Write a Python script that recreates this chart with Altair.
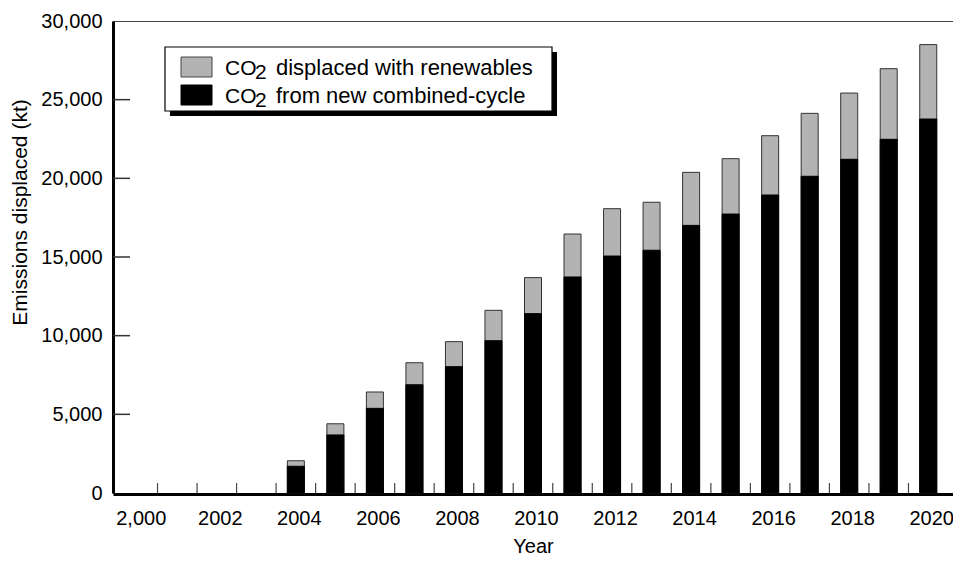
import altair as alt
import pandas as pd

# ---- data ----
years = list(range(2004, 2021))
total_kt = [2050, 4400, 6420, 8280, 9620, 11610, 13690, 16460, 18070,
            18480, 20380, 21250, 22710, 24130, 25420, 26970, 28500]
combined_cycle_kt = [1700, 3690, 5380, 6880, 8030, 9680, 11400, 13730, 15060,
                     15430, 17010, 17730, 18940, 20130, 21210, 22480, 23770]
year_labels = list(range(2000, 2021, 2))
y_tick_values = [0, 5000, 10000, 15000, 20000, 25000, 30000]
inner_y_ticks = [5000, 10000, 15000, 20000, 25000]
band_edges = [y + 0.5 for y in range(2000, 2020)]
legend_texts = ["displaced with renewables", "from new combined-cycle"]
legend_fills = ["#b3b3b3", "#000000"]
legend_strokes = ["#444444", "#000000"]

W, H = 840, 472
FONT = "Liberation Sans"
Y_TITLE = "Emissions displaced (kt)"

df = pd.DataFrame({"year": years, "total": total_kt, "cc": combined_cycle_kt})

x_scale = alt.Scale(domain=[1999.5, 2020.5], nice=False, zero=False)
y_scale = alt.Scale(domain=[0, 30000], nice=False)

x_axis = alt.Axis(
    values=year_labels, format="d",
    labelExpr="datum.value == 2000 ? '2,000' : datum.label",
    labelOffset=3, offset=1, title="Year", titleY=42, titleBaseline="top",
)
y_axis = alt.Axis(
    values=y_tick_values,
    labelExpr="format(datum.value, ',')",
    title=Y_TITLE, titleAngle=270,
    titleX=-93, titleY=191, titleAlign="center", titleBaseline="middle",
)

x_ticks = alt.Chart(pd.DataFrame({"edge": band_edges})).mark_rule(
    color="#444444", strokeWidth=1.2
).encode(
    x=alt.X("edge:Q", scale=x_scale, axis=x_axis),
    y=alt.value(H), y2=alt.value(H - 10),
)
y_ticks = alt.Chart(pd.DataFrame({"v": inner_y_ticks})).mark_rule(
    color="#333333", strokeWidth=1.5
).encode(
    y=alt.Y("v:Q", scale=y_scale, axis=y_axis),
    x=alt.value(0), x2=alt.value(17),
)

gray_bars = alt.Chart(df).mark_bar(
    size=17, orient="vertical", color="#b3b3b3", stroke="#333333", strokeWidth=1
).encode(
    x=alt.X("year:Q", scale=x_scale, axis=x_axis),
    y=alt.Y("total:Q", scale=y_scale, axis=y_axis),
)
black_bars = alt.Chart(df).mark_bar(
    size=17, orient="vertical", color="black", stroke="black", strokeWidth=1
).encode(
    x=alt.X("year:Q", scale=x_scale, axis=x_axis),
    y=alt.Y("cc:Q", scale=y_scale, axis=y_axis),
)

one = pd.DataFrame({"k": [0]})
# legend box with shadow
legend_layers = [
    alt.Chart(one).mark_rect(color="black").encode(
        x=alt.value(57), x2=alt.value(444), y=alt.value(31), y2=alt.value(95)),
    alt.Chart(one).mark_rect(fill="white", stroke="black", strokeWidth=1.2).encode(
        x=alt.value(52), x2=alt.value(439), y=alt.value(26), y2=alt.value(90)),
]
row_top = [36, 64]
for i, (txt, fill, stroke) in enumerate(zip(legend_texts, legend_fills, legend_strokes)):
    top = row_top[i]
    base = top + 18
    legend_layers.append(
        alt.Chart(one).mark_rect(fill=fill, stroke=stroke, strokeWidth=1).encode(
            x=alt.value(68), x2=alt.value(99), y=alt.value(top), y2=alt.value(top + 20)))
    legend_layers.append(
        alt.Chart(one).mark_text(text="CO", font=FONT, fontSize=21, align="left",
                                 baseline="alphabetic", color="black").encode(
            x=alt.value(112), y=alt.value(base)))
    legend_layers.append(
        alt.Chart(one).mark_text(text="2", font=FONT, fontSize=21, align="left",
                                 baseline="alphabetic", color="black").encode(
            x=alt.value(142), y=alt.value(base + 4)))
    legend_layers.append(
        alt.Chart(one).mark_text(text=txt, font=FONT, fontSize=22, align="left",
                                 baseline="alphabetic", color="black").encode(
            x=alt.value(163), y=alt.value(base)))

chart = alt.layer(x_ticks, y_ticks, gray_bars, black_bars, *legend_layers).properties(
    width=W, height=H,
    padding={"left": 105, "top": 13, "right": 0, "bottom": 64},
    autosize=alt.AutoSizeParams(type="none"),
    background="white",
).configure_view(
    stroke="#444444", strokeWidth=1
).configure_axis(
    ticks=False, grid=False,
    labelFont=FONT, labelFontSize=20, labelColor="black",
    labelFlush=False, labelOverlap=False,
    domainColor="black", domainWidth=3,
    titleFont=FONT, titleFontWeight="normal", titleColor="black", titleFontSize=20,
).configure_axisX(
    labelPadding=14,
).configure_axisY(
    labelPadding=11, titleFontSize=21,
)

chart.save("out.html", embed_options={"renderer": "svg", "actions": False})
